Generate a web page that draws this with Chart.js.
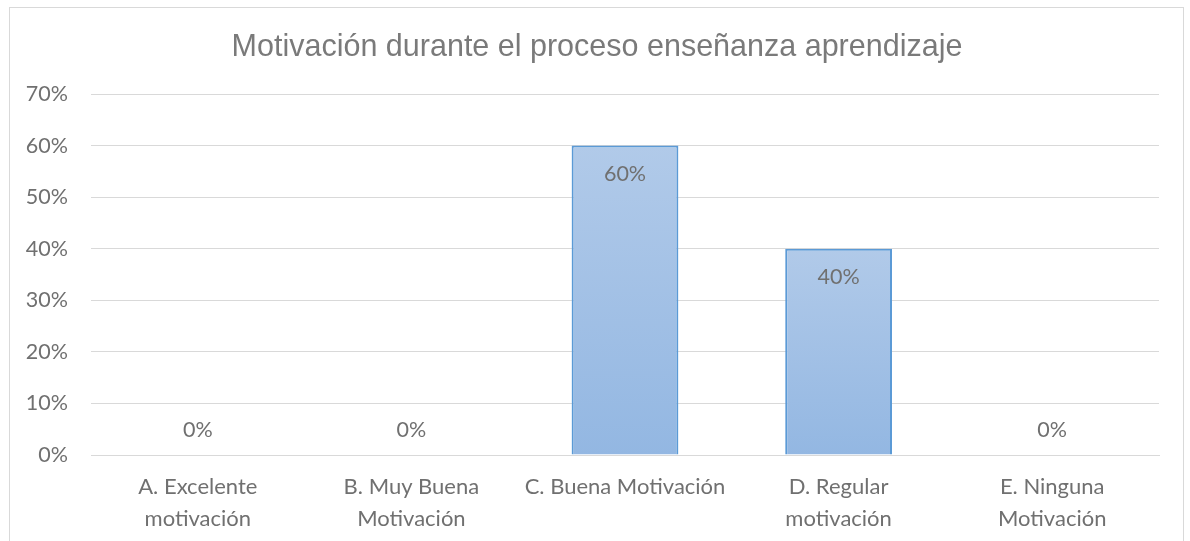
<!DOCTYPE html>
<html>
<head>
<meta charset="utf-8">
<script src="https://cdn.jsdelivr.net/npm/chart.js@4.4.1/dist/chart.umd.min.js"></script>
<style>
  html, body { margin: 0; padding: 0; background: #ffffff; }
  #wrap { width: 1190px; height: 541px; position: relative; }
</style>
</head>
<body>
<div id="wrap"><canvas id="chart" width="1190" height="541"></canvas></div>
<script>
// chart data
const chartTitle = "Motivación durante el proceso enseñanza aprendizaje";
const categories = [
    ["A. Excelente", "motivación"],
    ["B. Muy Buena", "Motivación"],
    "C. Buena Motivación",
    ["D. Regular", "motivación"],
    ["E. Ninguna", "Motivación"]
];
const percentValues = [0, 0, 60, 40, 0];
const yTicks = [0, 10, 20, 30, 40, 50, 60, 70];

const TEXT_GREY = "#707070";
const LABEL_FONT = "Lato, 'Open Sans', sans-serif";

// outer frame and title centred on the whole chart box (Excel style)
const framePlugin = {
    id: "frame",
    beforeDraw(chart) {
        const ctx = chart.ctx;
        ctx.save();
        ctx.strokeStyle = "#d9d9d9";
        ctx.lineWidth = 1;
        ctx.strokeRect(9.5, 7.5, 1174, 600);
        ctx.font = "30.5px 'Liberation Sans', Arial, sans-serif";
        ctx.fillStyle = "#7a7a7a";
        ctx.textAlign = "center";
        ctx.textBaseline = "middle";
        ctx.fillText(chartTitle, 597, 48);
        ctx.restore();
    }
};

// value labels: inside end for bars, just above the axis for zeros
const valueLabels = {
    id: "valueLabels",
    afterDatasetsDraw(chart) {
        const ctx = chart.ctx;
        const meta = chart.getDatasetMeta(0);
        ctx.save();
        ctx.font = "21.5px " + LABEL_FONT;
        ctx.fillStyle = TEXT_GREY;
        ctx.textAlign = "center";
        ctx.textBaseline = "middle";
        meta.data.forEach((bar, i) => {
            const v = percentValues[i];
            const y = v > 0 ? bar.y + 28 : bar.base - 25;
            ctx.fillText(v + "%", bar.x, y);
        });
        ctx.restore();
    }
};

function barGradient(context) {
    const chart = context.chart;
    if (!chart.chartArea || context.dataIndex === undefined) return "#a4c2e6";
    const yScale = chart.scales.y;
    const v = percentValues[context.dataIndex];
    const top = yScale.getPixelForValue(v);
    const bottom = yScale.getPixelForValue(0);
    if (bottom - top < 1) return "#a4c2e6";
    const g = chart.ctx.createLinearGradient(0, top, 0, bottom);
    g.addColorStop(0, "#b1cae9");
    g.addColorStop(1, "#93b7e2");
    return g;
}

const ctx = document.getElementById("chart").getContext("2d");

new Chart(ctx, {
    type: "bar",
    data: {
        labels: categories,
        datasets: [{
            data: percentValues,
            backgroundColor: barGradient,
            borderColor: "#5b9ad6",
            borderWidth: 2,
            borderSkipped: "bottom",
            categoryPercentage: 1,
            barPercentage: 0.5
        }]
    },
    options: {
        responsive: false,
        animation: false,
        devicePixelRatio: 1,
        layout: { padding: { top: 94, right: 31, bottom: 0, left: 0 } },
        plugins: {
            legend: { display: false },
            tooltip: { enabled: false },
            title: { display: false }
        },
        scales: {
            x: {
                grid: { display: false, drawTicks: false },
                border: { display: true, color: "#d9d9d9", width: 1 },
                ticks: {
                    color: TEXT_GREY,
                    font: { family: LABEL_FONT, size: 22, lineHeight: 1.45 },
                    padding: 16,
                    maxRotation: 0,
                    autoSkip: false
                },
                afterFit(scale) { scale.height = 86; }
            },
            y: {
                min: 0,
                max: 70,
                afterBuildTicks(scale) {
                    scale.ticks = yTicks.map(v => ({ value: v }));
                },
                grid: { color: "#d9d9d9", lineWidth: 1, drawTicks: false },
                border: { display: false },
                ticks: {
                    color: TEXT_GREY,
                    font: { family: LABEL_FONT, size: 21.5 },
                    padding: 23,
                    callback: v => v + "%"
                },
                afterFit(scale) { scale.width = 91; }
            }
        }
    },
    plugins: [framePlugin, valueLabels]
});
</script>
</body>
</html>
